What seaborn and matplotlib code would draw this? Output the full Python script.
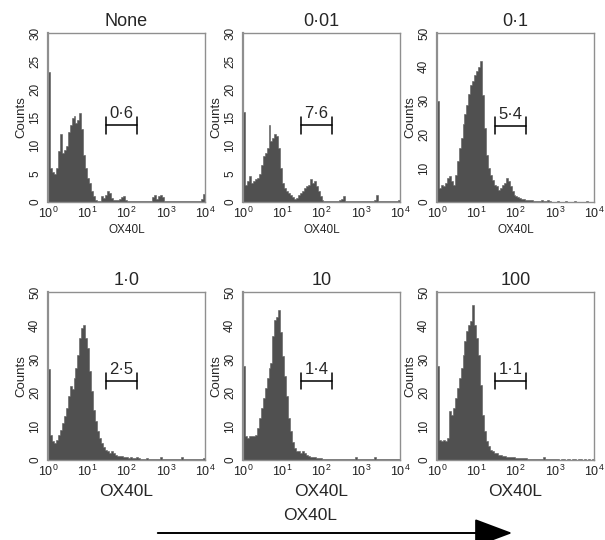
import numpy as np
import pandas as pd
import matplotlib
matplotlib.use("Agg")
import matplotlib.pyplot as plt
from matplotlib.ticker import MultipleLocator, FixedLocator
import seaborn as sns

# OX40L fluorescence histograms, 80 bins of 0.05 log10 units from 10^0 to 10^4
doses = ["None", "0·01", "0·1", "1·0", "10", "100"]
gate_pct = ["0·6", "7·6", "5·4", "2·5", "1·4", "1·1"]
y_max = [30, 30, 50, 50, 50, 50]

counts_none = [
    23, 6, 5.4, 5, 6, 9, 12, 8.7, 9.3, 10, 12.5, 13.7, 15, 15.2, 14, 14.6, 15.8, 13, 8.4, 6,
    4.3, 3.4, 1.9, 1, 0.4, 0.2, 0.2, 1, 0.7, 1.3, 1.9, 1.6, 0.7, 0.3, 0.3, 0.3, 0.5, 0.8, 1.0, 0.4,
    0.2, 0.1, 0.2, 0.1, 0.2, 0.1, 0.1, 0.2, 0.1, 0.1, 0.2, 0.1, 0.2, 0.8, 1.2, 0.6, 1.0, 1.2, 0.8, 0.2,
    0.1, 0.2, 0.1, 0.1, 0.1, 0.2, 0.1, 0.1, 0.2, 0.1, 0.1, 0.1, 0.2, 0.1, 0.1, 0.2, 0.1, 0.2, 0.6, 1.5,
]
counts_001 = [
    16, 3, 3.7, 4.6, 3.4, 3.7, 4, 4.3, 4.9, 6.6, 8.1, 8.7, 9.6, 13.7, 10.8, 11.4, 12, 11.7, 9.6, 6,
    3.4, 2.5, 1.9, 1.6, 1.3, 0.8, 0.6, 0.7, 1.3, 1.6, 1.9, 2.5, 2.8, 3.1, 4, 3.4, 3.7, 2.8, 1.9, 1,
    0.4, 0.2, 0.2, 0.1, 0.2, 0.2, 0.1, 0.2, 0.1, 0.3, 0.6, 1.0, 0.2, 0.1, 0.2, 0.1, 0.1, 0.2, 0.1, 0.1,
    0.2, 0.1, 0.1, 0.2, 0.1, 0.1, 0.2, 0.3, 1.2, 0.2, 0.1, 0.1, 0.2, 0.1, 0.1, 0.2, 0.1, 0.1, 0.2, 0.3,
]
counts_01 = [
    30, 4.1, 5.1, 4.6, 5.6, 7.1, 7.6, 6.1, 5.1, 8.1, 12, 16, 19, 23, 26, 28.8, 32, 34.7, 35.7, 37.7,
    38.7, 40, 41.8, 31.8, 22, 14, 10, 8.1, 6.6, 5.1, 4.6, 3.6, 4.1, 5.1, 5.6, 7.1, 6.1, 4.6, 3.2, 2.2,
    1.7, 1.4, 1.2, 1.0, 0.8, 0.7, 0.6, 0.5, 0.6, 0.4, 0.3, 0.3, 0.3, 0.5, 0.4, 0.3, 0.6, 0.2, 0.1, 0.1,
    0.1, 0.2, 0.1, 0.1, 0.1, 0.2, 0.1, 0.1, 0.1, 0.1, 0.2, 0.1, 0.1, 0.1, 0.1, 0.1, 0.2, 0.1, 0.1, 0.1,
]
counts_1 = [
    27, 7.5, 5.6, 5, 6, 7.5, 9, 11, 13, 15.5, 19, 22, 21, 24.4, 27.4, 31.3, 36.3, 39.3, 40.3, 36.3,
    33.3, 26.4, 20.4, 15, 11.5, 8.5, 6.5, 5, 3.8, 3.1, 2.6, 2.1, 2.6, 2.1, 1.6, 1.3, 1.1, 1.3, 0.9, 0.8,
    0.9, 0.7, 0.8, 0.5, 0.6, 0.9, 0.6, 0.4, 0.3, 0.4, 0.5, 0.3, 0.4, 0.3, 0.4, 0.3, 0.4, 0.9, 0.3, 0.3,
    0.3, 0.2, 0.3, 0.2, 0.3, 0.2, 0.3, 0.3, 0.8, 0.2, 0.3, 0.2, 0.2, 0.3, 0.2, 0.2, 0.3, 0.2, 0.3, 0.5,
]
counts_10 = [
    28, 7, 6.5, 7, 7, 7.2, 7.5, 9.5, 12.5, 15.5, 18.5, 21.4, 24.4, 27.4, 28.9, 36.9, 41.8, 42.5, 44.5, 38,
    31, 25, 19, 12.5, 8.5, 5.5, 3.6, 2.6, 2.6, 2.1, 2.6, 2.1, 1.6, 1.1, 0.9, 0.8, 1.0, 0.6, 0.7, 0.5,
    0.4, 0.3, 0.2, 0.3, 0.2, 0.3, 0.2, 0.2, 0.3, 0.2, 0.2, 0.3, 0.2, 0.2, 0.3, 0.2, 0.2, 0.8, 0.3, 0.2,
    0.2, 0.2, 0.3, 0.2, 0.2, 0.2, 0.3, 0.9, 0.2, 0.2, 0.2, 0.2, 0.3, 0.2, 0.2, 0.2, 0.2, 0.3, 0.2, 0.2,
]
counts_100 = [
    28, 6, 5.6, 6, 5.6, 6.5, 14.5, 13.5, 15.5, 18.5, 21.4, 24.4, 27.4, 31.3, 35.3, 38.3, 40.3, 41.3, 46, 40.3,
    36.3, 31.3, 22.4, 13.5, 8.5, 5.6, 4.1, 3.1, 2.6, 2.1, 2.1, 1.6, 1.4, 1.1, 1.1, 1.0, 0.9, 0.9, 0.8, 0.8,
    0.7, 0.6, 0.6, 0.5, 0.5, 0.5, 0.4, 0.4, 0.3, 0.3, 0.3, 0.3, 0.4, 0.3, 0.8, 0.3, 0.2, 0.2, 0.2, 0.2,
    0.2, 0.2, 0.1, 0.2, 0.2, 0.1, 0.2, 0.2, 0.1, 0.2, 0.2, 0.1, 0.2, 0.2, 0.1, 0.2, 0.1, 0.2, 0.1, 0.2,
]
all_counts = [counts_none, counts_001, counts_01, counts_1, counts_10, counts_100]

gate_lo, gate_hi = 1.47, 2.27  # gate in log10 units
gate_y = [13.6, 13.6, 22.5, 23.5, 23.5, 23.5]

edges = np.linspace(0, 4, 81)
centers = (edges[:-1] + edges[1:]) / 2

sns.set_style("white")
plt.rcParams["font.family"] = ["Liberation Sans", "DejaVu Sans"]
plt.rcParams["mathtext.fontset"] = "custom"
plt.rcParams["mathtext.rm"] = "Liberation Sans"
plt.rcParams["mathtext.it"] = "Liberation Sans"

W, H = 605, 540
fig = plt.figure(figsize=(W / 100, H / 100), dpi=100)

col_left = [48, 243, 437]
rows = [(33, 202), (292, 460)]
frame_col = "#8f8f8f"

for i in range(6):
    r, c = divmod(i, 3)
    top, bot = rows[r]
    ax = fig.add_axes([col_left[c] / W, 1 - bot / H, 157 / W, (bot - top) / H])
    df = pd.DataFrame({"log_fl": centers, "n": all_counts[i]})
    sns.histplot(data=df, x="log_fl", weights="n", bins=80, binrange=(0, 4),
                 element="step", fill=True, color="#505050", edgecolor="#5c5c5c",
                 linewidth=0.4, alpha=1, ax=ax)
    ax.set_xlim(0, 4)
    ax.set_ylim(0, y_max[i])

    # log-style axis ticks
    ax.set_xticks(range(5))
    ax.set_xticklabels([r"$10^{%d}$" % k for k in range(5)], fontsize=9)
    minor = [k + np.log10(m) for k in range(4) for m in range(2, 10)]
    ax.xaxis.set_minor_locator(FixedLocator(minor))
    step = 5 if y_max[i] == 30 else 10
    ax.set_yticks(range(0, y_max[i] + 1, step))
    ax.yaxis.set_minor_locator(MultipleLocator(1 if y_max[i] == 30 else 2))
    for lab in ax.get_yticklabels():
        lab.set_rotation(90)
        lab.set_va("center")
        lab.set_fontsize(8.5)
    ax.tick_params(axis="both", which="major", direction="in", length=4,
                   width=0.8, color=frame_col, labelcolor="#222222", pad=3)
    ax.tick_params(axis="both", which="minor", direction="in", length=2,
                   width=0.6, color=frame_col)
    ax.tick_params(axis="y", pad=5)
    for name, sp in ax.spines.items():
        sp.set_visible(True)
        sp.set_color(frame_col)
        sp.set_linewidth(1.6 if name == "left" else 1.0)

    ax.set_ylabel("Counts", fontsize=9.5, labelpad=1)
    ax.set_xlabel("OX40L", fontsize=8.5 if r == 0 else 12.5, labelpad=2 if r == 0 else 3)
    ax.set_title(doses[i], fontsize=13, pad=5)

    # marker gate with percentage
    cap = y_max[i] * 0.05
    gy = gate_y[i]
    ax.plot([gate_lo, gate_hi], [gy, gy], color="black", lw=1.1)
    ax.plot([gate_lo, gate_lo], [gy - cap, gy + cap], color="black", lw=1.1)
    ax.plot([gate_hi, gate_hi], [gy - cap, gy + cap], color="black", lw=1.1)
    ax.text((gate_lo + gate_hi) / 2, gy + cap * 0.5, gate_pct[i], ha="center",
            va="bottom", fontsize=12)

# increasing-dose arrow along the bottom
fig.patches.append(matplotlib.patches.FancyArrowPatch(
    (155 / W, 1 - 533 / H), (515 / W, 1 - 533 / H), transform=fig.transFigure,
    arrowstyle="-|>,head_length=1.6,head_width=0.6", mutation_scale=15,
    color="black", lw=1.4))
fig.text(310 / W, 1 - 516 / H, "OX40L", ha="center", va="center", fontsize=12.5)

fig.savefig("out.png", dpi=100)
